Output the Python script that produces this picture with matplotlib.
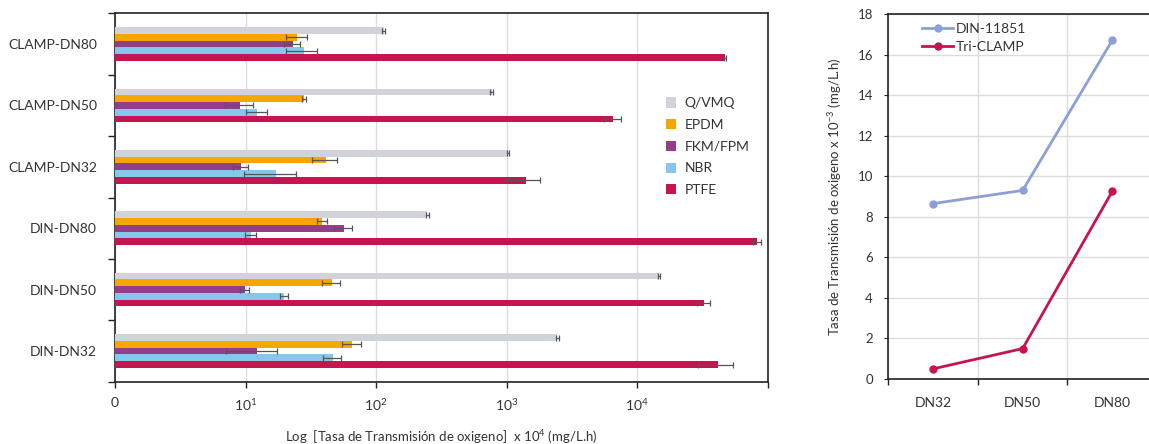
import numpy as np
import matplotlib
matplotlib.use("Agg")
import matplotlib.pyplot as plt
from matplotlib.patches import Patch
from matplotlib.ticker import FixedLocator, NullFormatter

plt.rcParams['font.family'] = ['Lato', 'DejaVu Sans']
plt.rcParams['mathtext.fontset'] = 'custom'
plt.rcParams['mathtext.rm'] = 'Lato'
plt.rcParams['mathtext.it'] = 'Lato'

# ---- left panel data (bottom to top) ----
groups = ["DIN-DN32", "DIN-DN50", "DIN-DN80", "CLAMP-DN32", "CLAMP-DN50", "CLAMP-DN80"]
materials = ["Q/VMQ", "EPDM", "FKM/FPM", "NBR", "PTFE"]

qvmq = [2440, 14700, 247, 1020, 769, 114]
qvmq_err = [60, 350, 6, 20, 18, 3]
epdm = [65.7, 45.8, 38.7, 41.0, 27.9, 24.9]
epdm_err = [11, 7.3, 3.4, 9, 1.0, 4.5]
fkm = [12.3, 9.86, 56.6, 9.25, 9.14, 23.0]
fkm_err = [5.2, 0.8, 9, 1.2, 2.2, 3.3]
nbr = [46.6, 19.8, 11.0, 17.1, 12.3, 27.9]
nbr_err = [7.3, 1.3, 1.1, 7.4, 2.3, 7.6]
ptfe = [41400, 32300, 82800, 1400, 6510, 47100]
ptfe_err = [12400, 3500, 6000, 400, 950, 700]

# ---- right panel data ----
sizes = ["DN32", "DN50", "DN80"]
din_11851 = [8.65, 9.3, 16.7]
tri_clamp = [0.5, 1.5, 9.25]

colors = ["#D1D3DA", "#F7A600", "#933D8C", "#87C7EB", "#C71350"]
line_blue = "#8C9FD6"
line_red = "#C71350"
grid_c = "#DCDCDC"
txt_c = "#333333"

fig = plt.figure(figsize=(11.49, 4.44), dpi=100)

# ================= left: horizontal grouped bars (log scale) =================
ax = fig.add_axes([0.1001, 0.1403, 0.5681, 0.8297])
y = np.arange(len(groups))
bh = 0.11
series = [qvmq, epdm, fkm, nbr, ptfe]
errs = [qvmq_err, epdm_err, fkm_err, nbr_err, ptfe_err]
offsets = [2 * bh, bh, 0, -bh, -2 * bh]
for vals, err, off, col, name in zip(series, errs, offsets, colors, materials):
    ax.barh(y + off, vals, height=bh, color=col, left=0, label=name,
            xerr=err, error_kw=dict(ecolor="#555555", elinewidth=0.9,
                                    capsize=2.5, capthick=0.9), zorder=3)

ax.set_xscale("log")
ax.set_xlim(1, 1e5)
ax.set_ylim(-0.5, len(groups) - 0.5)
ax.set_xticks([1, 10, 100, 1000, 1e4, 1e5])
ax.set_xticklabels(["0", "$10^{1}$", "$10^{2}$", "$10^{3}$", "$10^{4}$", ""],
                   fontsize=10, color=txt_c)
ax.xaxis.set_minor_locator(FixedLocator([]))
ax.grid(axis="x", color=grid_c, linewidth=1, zorder=0)
ax.set_axisbelow(True)

# category boundaries as ticks, labels centred on the groups
ax.yaxis.set_major_locator(FixedLocator(np.arange(-0.5, len(groups), 1.0)))
ax.yaxis.set_major_formatter(NullFormatter())
ax.yaxis.set_minor_locator(FixedLocator(y))
ax.set_yticklabels(groups, minor=True, fontsize=10, color=txt_c)
ax.tick_params(axis="y", which="minor", length=0, pad=13)
ax.tick_params(axis="y", which="major", length=5, width=1, color="#222222")
ax.tick_params(axis="x", length=4, width=1, color="#222222", pad=7)
for s in ax.spines.values():
    s.set_color("#222222")
    s.set_linewidth(1.2)

ax.set_xlabel("Log  [Tasa de Transmisión de oxigeno]  x 10$^{4}$ (mg/L.h)",
              fontsize=9.5, color=txt_c, labelpad=11)

handles = [Patch(facecolor=c, edgecolor="none") for c in colors]
ax.legend(handles, materials, loc="upper left", bbox_to_anchor=(0.825, 0.806),
          frameon=False, fontsize=10, handlelength=0.75, handleheight=0.75,
          handletextpad=0.6, labelspacing=0.7, labelcolor=txt_c)

# ================= right: line chart =================
ax2 = fig.add_axes([0.7731, 0.1464, 0.2339, 0.8221])
xc = np.arange(len(sizes))
ax2.plot(xc, din_11851, color=line_blue, lw=2, marker="o", ms=5,
         label="DIN-11851", zorder=3)
ax2.plot(xc, tri_clamp, color=line_red, lw=2, marker="o", ms=5,
         label="Tri-CLAMP", zorder=3)
ax2.set_xlim(-0.5, 2.5)
ax2.set_ylim(0, 18)
ax2.set_yticks(np.arange(0, 19, 2))
ax2.tick_params(axis="y", labelsize=9.5, labelcolor=txt_c, length=3,
                color="#222222", pad=8)
ax2.xaxis.set_major_locator(FixedLocator([-0.5, 0.5, 1.5]))
ax2.xaxis.set_major_formatter(NullFormatter())
ax2.xaxis.set_minor_locator(FixedLocator(xc))
ax2.set_xticklabels(sizes, minor=True, fontsize=10, color=txt_c)
ax2.tick_params(axis="x", which="minor", length=0, pad=13)
ax2.tick_params(axis="x", which="major", length=4, width=1, color="#222222")
ax2.grid(True, which="major", color=grid_c, linewidth=1, zorder=0)
ax2.set_axisbelow(True)
for s in ax2.spines.values():
    s.set_color("#222222")
    s.set_linewidth(1.2)
ax2.set_ylabel("Tasa de Transmisión de oxigeno x 10$^{-3}$ (mg/L.h)",
               fontsize=9.5, color=txt_c, labelpad=10)
ax2.legend(loc="upper left", bbox_to_anchor=(0.08, 1.01), frameon=False,
           fontsize=10, handlelength=2.2, handletextpad=0.2,
           labelspacing=0.45, labelcolor=txt_c)

fig.savefig("out.png", dpi=100)
